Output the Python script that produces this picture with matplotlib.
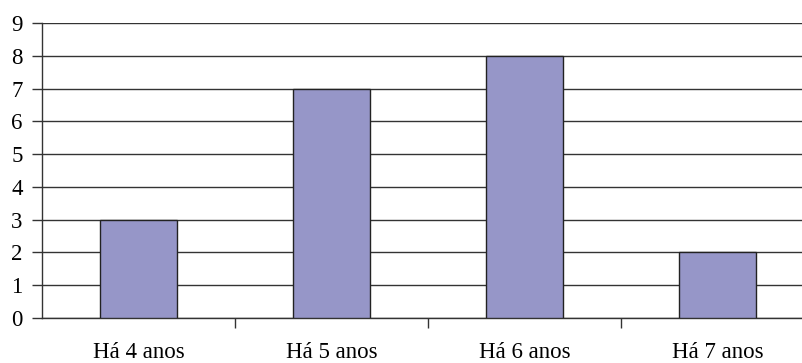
import matplotlib
matplotlib.use("Agg")
import matplotlib.pyplot as plt
from matplotlib.ticker import FixedLocator

categories = ["Há 4 anos", "Há 5 anos", "Há 6 anos", "Há 7 anos"]
values = [3, 7, 8, 2]
y_ticks = list(range(0, 10))

plt.rcParams["font.family"] = ["Liberation Serif", "DejaVu Serif"]

fig = plt.figure(figsize=(8.02, 3.63), dpi=100)
ax = fig.add_axes([42 / 802, 45 / 363, 772 / 802, 295 / 363])

x = list(range(len(categories)))
ax.bar(x, values, width=0.4, color="#9696c8", edgecolor="#222222", linewidth=1.0, zorder=3)

ax.set_xlim(-0.5, len(categories) - 0.5)
ax.set_ylim(0, 9)
ax.set_yticks(y_ticks)
ax.yaxis.grid(True, color="#333333", linewidth=1.0, zorder=0)

ax.set_xticks(x)
ax.set_xticklabels(categories, fontsize=16.5)
ax.tick_params(axis="x", which="major", length=0, pad=17.5)
ax.xaxis.set_minor_locator(FixedLocator([i + 0.5 for i in range(len(categories) - 1)]))
ax.tick_params(axis="x", which="minor", length=7, width=1.0, color="#333333", direction="out")
ax.tick_params(axis="y", length=7, width=1.0, color="#333333", labelsize=16.5, pad=7)

for side in ("top", "right"):
    ax.spines[side].set_visible(False)
for side in ("left", "bottom"):
    ax.spines[side].set_color("#333333")
    ax.spines[side].set_linewidth(1.0)

fig.savefig("out.png", dpi=100)
